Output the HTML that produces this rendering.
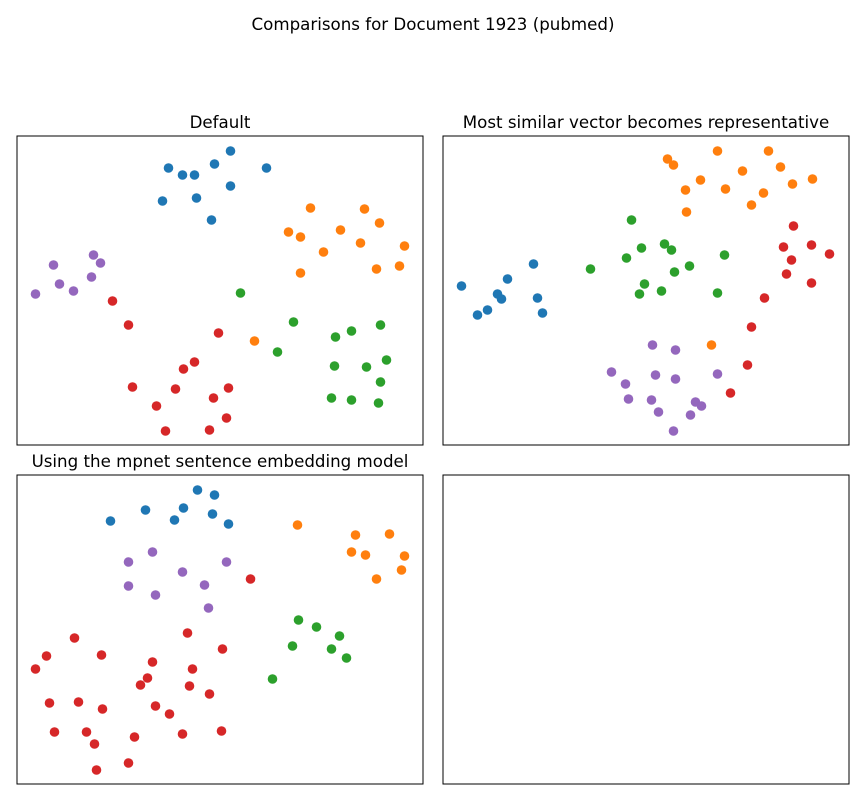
<!DOCTYPE html>
<html><head><meta charset="utf-8"><style>
html,body{margin:0;padding:0;background:#fff;}
svg{display:block;font-family:"DejaVu Sans","Liberation Sans",sans-serif;}
</style></head><body>
<svg id="fig" width="866" height="800" viewBox="0 0 866 800">
<text x="433" y="30" text-anchor="middle" font-size="16.67">Comparisons for Document 1923 (pubmed)</text>
</svg>
<script>
const colors = {blue:'#1f77b4', orange:'#ff7f0e', green:'#2ca02c', red:'#d62728', purple:'#9467bd'};
const xDomain = [0, 406];
const yDomain = [0, 309];

const p1Blue = [[151,278],[165,271],[177,271],[197,282],[213,295],[249,278],[179,248],[213,260],[145,245],[194,226]];
const p1Orange = [[293,238],[347,237],[362,223],[271,214],[283,209],[323,216],[343,203],[387,200],[306,194],[283,173],[359,177],[382,180],[237,105]];
const p1Green = [[223,153],[276,124],[363,121],[334,115],[318,109],[260,94],[317,80],[349,79],[369,86],[363,64],[314,48],[334,46],[361,43]];
const p1Red = [[95,145],[111,121],[201,113],[177,84],[166,77],[115,59],[158,57],[211,58],[196,48],[139,40],[209,28],[148,15],[192,16]];
const p1Purple = [[76,191],[83,183],[36,181],[74,169],[42,162],[56,155],[18,152]];

const p2Blue = [[18,160],[64,167],[90,182],[54,152],[58,147],[94,148],[44,136],[34,131],[99,133]];
const p2Orange = [[224,287],[230,281],[274,295],[325,295],[337,279],[299,275],[257,266],[369,267],[349,262],[242,256],[282,257],[320,253],[308,241],[243,234],[268,101]];
const p2Green = [[188,226],[147,177],[183,188],[198,198],[221,202],[228,196],[281,191],[246,180],[231,174],[201,162],[196,152],[218,155],[274,153]];
const p2Red = [[350,220],[340,199],[368,201],[386,192],[348,186],[343,172],[368,163],[321,148],[308,119],[304,81],[287,53]];
const p2Purple = [[209,101],[232,96],[168,74],[212,71],[232,67],[274,72],[182,62],[185,47],[208,46],[252,44],[258,40],[215,34],[247,31],[230,15]];

const p3Blue = [[180,295],[197,290],[128,275],[166,277],[93,264],[157,265],[195,271],[211,261]];
const p3Orange = [[280,260],[338,250],[372,251],[334,233],[348,230],[387,229],[384,215],[359,206]];
const p3Purple = [[135,233],[111,223],[209,223],[165,213],[187,200],[111,199],[138,190],[191,177]];
const p3Red = [[233,206],[57,147],[170,152],[29,129],[84,130],[205,136],[18,116],[135,123],[175,116],[130,107],[123,100],[172,99],[192,91],[32,82],[61,83],[85,76],[138,79],[152,71],[37,53],[69,53],[204,54],[165,51],[117,48],[77,41],[79,15],[111,22]];
const p3Green = [[281,165],[299,158],[322,149],[275,139],[314,136],[329,127],[255,106]];

const panelTitles = ['Default', 'Most similar vector becomes representative', 'Using the mpnet sentence embedding model', ''];

const NS = 'http://www.w3.org/2000/svg';
const svg = document.getElementById('fig');
const panels = [
  {l:17, t:136, series:[['blue',p1Blue],['orange',p1Orange],['green',p1Green],['red',p1Red],['purple',p1Purple]]},
  {l:443, t:136, series:[['blue',p2Blue],['orange',p2Orange],['green',p2Green],['red',p2Red],['purple',p2Purple]]},
  {l:17, t:475, series:[['blue',p3Blue],['orange',p3Orange],['purple',p3Purple],['red',p3Red],['green',p3Green]]},
  {l:443, t:475, series:[]}
];
const W = 406, H = 309;
panels.forEach((p, i) => {
  const xScale = v => p.l + 0.5 + (v - xDomain[0]) / (xDomain[1] - xDomain[0]) * W;
  const yScale = v => p.t + 1 + H - (v - yDomain[0]) / (yDomain[1] - yDomain[0]) * H;
  const g = document.createElementNS(NS, 'g');
  
  
  svg.appendChild(g);
  const r = document.createElementNS(NS, 'rect');
  r.setAttribute('x', p.l); r.setAttribute('y', p.t);
  r.setAttribute('width', W); r.setAttribute('height', H);
  r.setAttribute('fill', 'none'); r.setAttribute('stroke', '#000'); r.setAttribute('stroke-width', '1');
  
  
  g.appendChild(r);
  if (panelTitles[i]) {
    const t = document.createElementNS(NS, 'text');
    t.setAttribute('x', p.l + W / 2); t.setAttribute('y', p.t - 8);
    t.setAttribute('text-anchor', 'middle'); t.setAttribute('font-size', '16.67');
    t.textContent = panelTitles[i];
    
    
    g.appendChild(t);
  }
  p.series.forEach(([c, pts]) => {
    pts.forEach(d => {
      const ci = document.createElementNS(NS, 'circle');
      ci.setAttribute('cx', xScale(d[0]));
      ci.setAttribute('cy', yScale(d[1]));
      ci.setAttribute('r', '4.8');
      ci.setAttribute('fill', colors[c]);
      
      
      g.appendChild(ci);
    });
  });
});
</script>
</body></html>
